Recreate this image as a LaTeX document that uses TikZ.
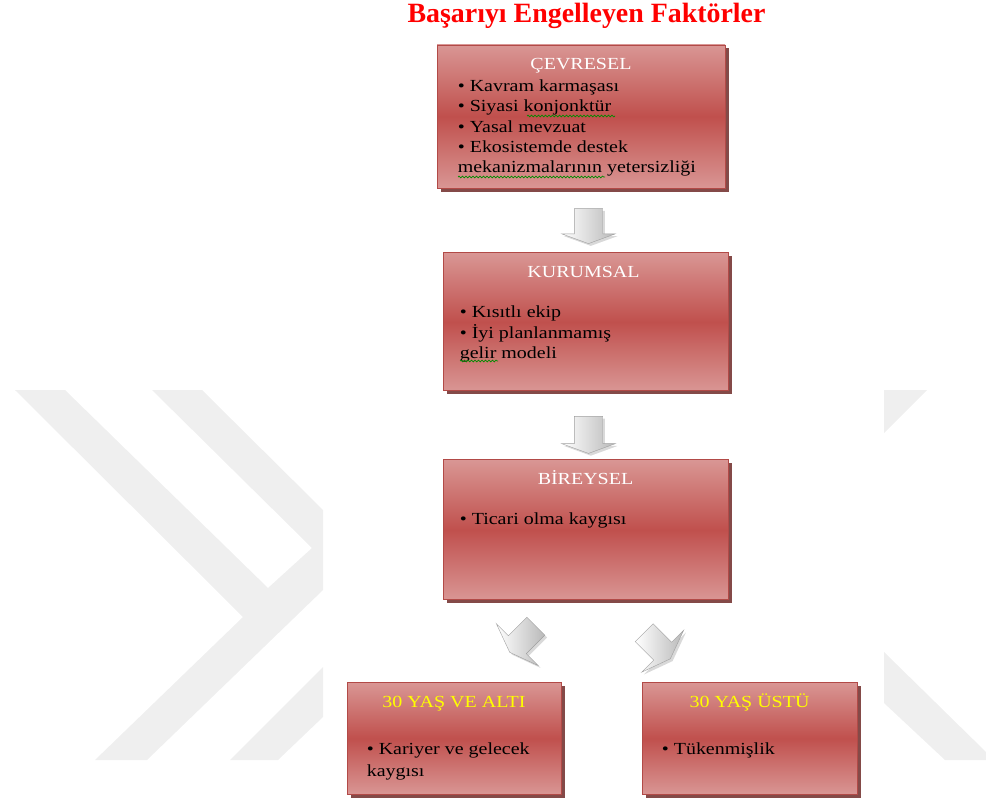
\documentclass[tikz,border=0pt]{standalone}
\usepackage{fontspec}
\setmainfont{Liberation Serif}
\newfontfamily\genis{Liberation Serif}[FakeStretch=1.18]
\usetikzlibrary{positioning,calc,shapes.arrows,shadows,decorations.pathmorphing}
\definecolor{acik}{HTML}{D99694}
\definecolor{koyu}{HTML}{C0504D}
\definecolor{kenar}{HTML}{B24A47}
\definecolor{golge}{HTML}{6E2A28}
\definecolor{filigran}{HTML}{EFEFEF}
\definecolor{sari}{HTML}{FFFF00}

\begin{document}
\begin{tikzpicture}[x=1bp, y=-1bp, node distance=64bp]
				\tikzstyle{kutu} = [rectangle, draw=kenar, line width=0.8bp, top color=acik, bottom color=acik, middle color=koyu, inner sep=0pt, drop shadow={shadow xshift=3.5bp, shadow yshift=-3.5bp, fill=golge, opacity=0.85}];
				\tikzstyle{baslik} = [text=white, font=\genis\fontsize{17}{20}\selectfont, anchor=base, inner sep=0pt];
				\tikzstyle{madde} = [font=\genis\fontsize{17}{20.3}\selectfont, align=left, anchor=base west, inner sep=0pt];
				\tikzstyle{ok} = [single arrow, draw=gray!75, left color=white, right color=gray!55, single arrow tip angle=140, inner xsep=0pt, anchor=tail, drop shadow={opacity=0.3}];
				\tikzstyle{dalga} = [green!55!black, line width=0.7bp, decorate, decoration={snake, amplitude=0.9bp, segment length=3.5bp}];
				
				\useasboundingbox (0,0) rectangle (986,799);
				
				% filigran
				\fill[filigran] (15,390) -- (65,390) -- (268,588) -- (312,548) -- (152,390) -- (202,390) -- (323,510) -- (323,590) -- (147,760) -- (95,760) -- (243,617) -- cycle;
				\fill[filigran] (230,760) -- (323,667) -- (323,717) -- (278,760) -- cycle;
				\fill[filigran] (884,390) -- (927,390) -- (884,433) -- cycle;
				\fill[filigran] (884,652) -- (986,752) -- (986,760) -- (945,760) -- (884,703) -- cycle;
				
				\node[text=red, anchor=base, inner sep=0pt, font=\fontsize{28}{30}\selectfont\bfseries](title) at (586.5,23){Başarıyı Engelleyen Faktörler};
				
				\node[kutu, minimum width=288bp, minimum height=143bp](cevresel) at (581,116.5){};
				\node[kutu, minimum width=285bp, minimum height=138bp, below = of cevresel, xshift=4.5bp](kurumsal){};
				\node[kutu, minimum width=285bp, minimum height=140bp, below = 68bp of kurumsal](bireysel){};
				\node[kutu, minimum width=214bp, minimum height=112bp, below = 82bp of bireysel, xshift=-131.5bp](alti){};
				\node[kutu, minimum width=215bp, minimum height=112bp, below = 82bp of bireysel, xshift=164bp](ustu){};
				
				% base = son satir
				\node[baslik](cevresel baslik) at ($(cevresel.north)+(0,24.5)$){ÇEVRESEL};
				\node[madde](cevresel madde) at ($(cevresel.north west)+(21,128)$){• Kavram karmaşası\\• Siyasi konjonktür\\• Yasal mevzuat\\• Ekosistemde destek\\mekanizmalarının yetersizliği};
				\node[baslik](kurumsal baslik) at ($(kurumsal.north)+(-2,25.5)$){KURUMSAL};
				\node[madde](kurumsal madde) at ($(kurumsal.north west)+(17,106)$){• Kısıtlı ekip\\• İyi planlanmamış\\gelir modeli};
				\node[baslik](bireysel baslik) at ($(bireysel.north)+(0,25.5)$){BİREYSEL};
				\node[madde](bireysel madde) at ($(bireysel.north west)+(17,65)$){• Ticari olma kaygısı};
				\node[baslik, text=sari](alti baslik) at ($(alti.north)+(0,25.5)$){30 YAŞ VE ALTI};
				\node[madde, font=\genis\fontsize{17}{22}\selectfont](alti madde) at ($(alti.north west)+(20,94)$){• Kariyer ve gelecek\\kaygısı};
				\node[baslik, text=sari](ustu baslik) at ($(ustu.north)+(0,25.5)$){30 YAŞ ÜSTÜ};
				\node[madde](ustu madde) at ($(ustu.north west)+(20,72)$){• Tükenmişlik};
				
				% imla cizgileri
				\draw[dalga] (527,116) -- (615,116);
				\draw[dalga] (458,177) -- (605,177);
				\draw[dalga] (460,361) -- (498,361);
				
				% bloklu oklar
				\node[ok, rotate=-90, inner ysep=14bp, single arrow head extend=12.5bp, minimum height=35bp](ok1) at ($(cevresel.south)+(7.5,20)$){};
				\node[ok, rotate=-90, inner ysep=14bp, single arrow head extend=12.5bp, minimum height=37bp](ok2) at ($(kurumsal.south)+(3,25)$){};
				\node[ok, rotate=-135, inner ysep=12.5bp, single arrow head extend=17bp, minimum height=37bp](ok3) at ($(bireysel.south)+(-49.5,26)$){};
				\node[ok, rotate=-45, inner ysep=12.5bp, single arrow head extend=17bp, minimum height=37bp](ok4) at ($(bireysel.south)+(58.5,32.5)$){};
			\end{tikzpicture}
\end{document}
